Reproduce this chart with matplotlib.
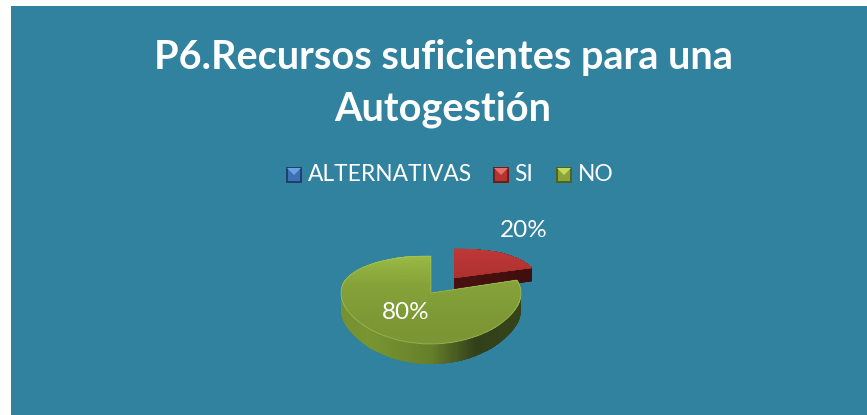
import numpy as np
import matplotlib
matplotlib.use("Agg")
import matplotlib.pyplot as plt
from matplotlib.colors import LinearSegmentedColormap as LSC
from matplotlib.patches import Rectangle, Polygon
from matplotlib.path import Path

title_lines = ["P6.Recursos suficientes para una", "Autogestión"]
legend_names = ["ALTERNATIVAS", "SI", "NO"]
pie_values = [20, 80]

PANEL = "#31829e"
WHITE = "#ffffff"
plt.rcParams["font.family"] = ["Lato", "DejaVu Sans"]

W, H = 867, 415
fig = plt.figure(figsize=(W / 100, H / 100), dpi=100, facecolor="white")

# overlay in pixel coords for panel, title and legend
bg = fig.add_axes([0, 0, 1, 1])
bg.set_xlim(0, W); bg.set_ylim(H, 0); bg.axis("off")
bg.add_patch(Rectangle((11, 6), W - 11, H - 6, fc=PANEL, ec="none"))

bg.text(443, 57, title_lines[0], ha="center", va="center", color=WHITE, fontsize=28.5, fontweight="bold")
bg.text(443, 109, title_lines[1], ha="center", va="center", color=WHITE, fontsize=28.5, fontweight="bold")

def swatch(x, y, s, mid, light, dark):
    bg.add_patch(Rectangle((x, y), s, s, fc=dark, ec="none"))
    bg.add_patch(Rectangle((x + 2, y + 2), s - 4, s - 4, fc=mid, ec="none"))
    bg.add_patch(Polygon([(x + 1, y + 1), (x + s - 1, y + 1), (x + s / 2, y + s / 2)], fc=light, ec="none"))

swatch_x = [286, 493, 556]
text_x = [308, 514, 578]
swatch_cols = [("#3c72b4", "#6ba3e0", "#1f3f6e"),
               ("#b53432", "#e8706c", "#6e1d1b"),
               ("#8aa63a", "#c3dc5e", "#4f6220")]
for name, sx, tx, cols in zip(legend_names, swatch_x, text_x, swatch_cols):
    swatch(sx, 167, 16, *cols)
    bg.text(tx, 174, name, ha="left", va="center", color=WHITE, fontsize=16.4)

# pie axes: unit radius is 90 px wide, y squashed with a perspective-like scale
A, B = 44.0, -7.0
def forward(y):
    return A * y + B * y ** 2
def inverse(v):
    return (A - np.sqrt(np.clip(A ** 2 + 4 * B * v, 0, None))) / (-2 * B)

XL, YL = 1.4, 1.8
cy = 293
top_px, bot_px = cy - forward(YL), cy - forward(-YL)
ax = fig.add_axes([(431 - XL * 90) / W, 1 - bot_px / H, 2 * XL * 90 / W, (bot_px - top_px) / H])
ax.patch.set_alpha(0)

wedges, _ = ax.pie(pie_values, startangle=90, counterclock=False, explode=[0.44, 0],
                   colors=["#b03533", "#8fae3e"], radius=1.0)
wedges[0].set_radius(0.91)
ax.set_aspect("auto")
ax.set_yscale("function", functions=(forward, inverse))

def fill_gradient(path, cmap, horizontal, z):
    xs = np.linspace(-XL, XL, 140)
    ys = np.linspace(-YL, YL, 140)
    if horizontal:
        vals = np.tile(xs, (len(ys), 1))
    else:
        vals = np.tile(ys[:, None], (1, len(xs)))
    m = ax.pcolormesh(xs, ys, vals, cmap=cmap, shading="gouraud", zorder=z)
    m.set_clip_path(path, ax.transData)

def side_path(wedge, depth):
    base = wedge.get_path()
    parts = [Path(base.vertices - [0, d], base.codes) for d in np.linspace(0, depth, 16)]
    return Path.make_compound_path(*parts)

red_side = LSC.from_list("rs", [(0, "#5e1614"), (0.5, "#4c1210"), (1, "#3c0e0c")])
red_top = LSC.from_list("rt", [(0, "#8f2827"), (0.5, "#a52f2e"), (0.7, "#b43433"), (1, "#cc3f3d")])
green_side = LSC.from_list("gs", [(0, "#6f8a2e"), (0.25, "#7a9632"), (0.5, "#66802a"),
                                  (0.68, "#33401a"), (0.85, "#36431a"), (1, "#465720")])
green_top = LSC.from_list("gt", [(0, "#7b9634"), (0.28, "#7b9634"), (0.55, "#86a33a"), (0.78, "#9abb45"), (1, "#a2c44a")])

wedges[0].set_edgecolor("none")
wedges[0].set_zorder(2)
wedges[1].set_zorder(5)
wedges[1].set_facecolor("none")
wedges[1].set_edgecolor((0.72, 0.82, 0.45, 0.45))
wedges[1].set_linewidth(0.7)
fill_gradient(side_path(wedges[0], 0.36), red_side, True, 1)
fill_gradient(wedges[0].get_path(), red_top, False, 2.5)
fill_gradient(side_path(wedges[1], 0.33), green_side, True, 3)
fill_gradient(wedges[1].get_path(), green_top, False, 4.5)

ax.set_xlim(-XL, XL)
ax.set_ylim(-YL, YL)
ax.axis("off")

ax.text(524, 230, f"{pie_values[0]}%", transform=bg.transData, ha="center", va="center",
        color=WHITE, fontsize=17.5, zorder=10)
ax.text(406, 312, f"{pie_values[1]}%", transform=bg.transData, ha="center", va="center",
        color=WHITE, fontsize=17.5, zorder=10)

fig.savefig("out.png", dpi=100)
